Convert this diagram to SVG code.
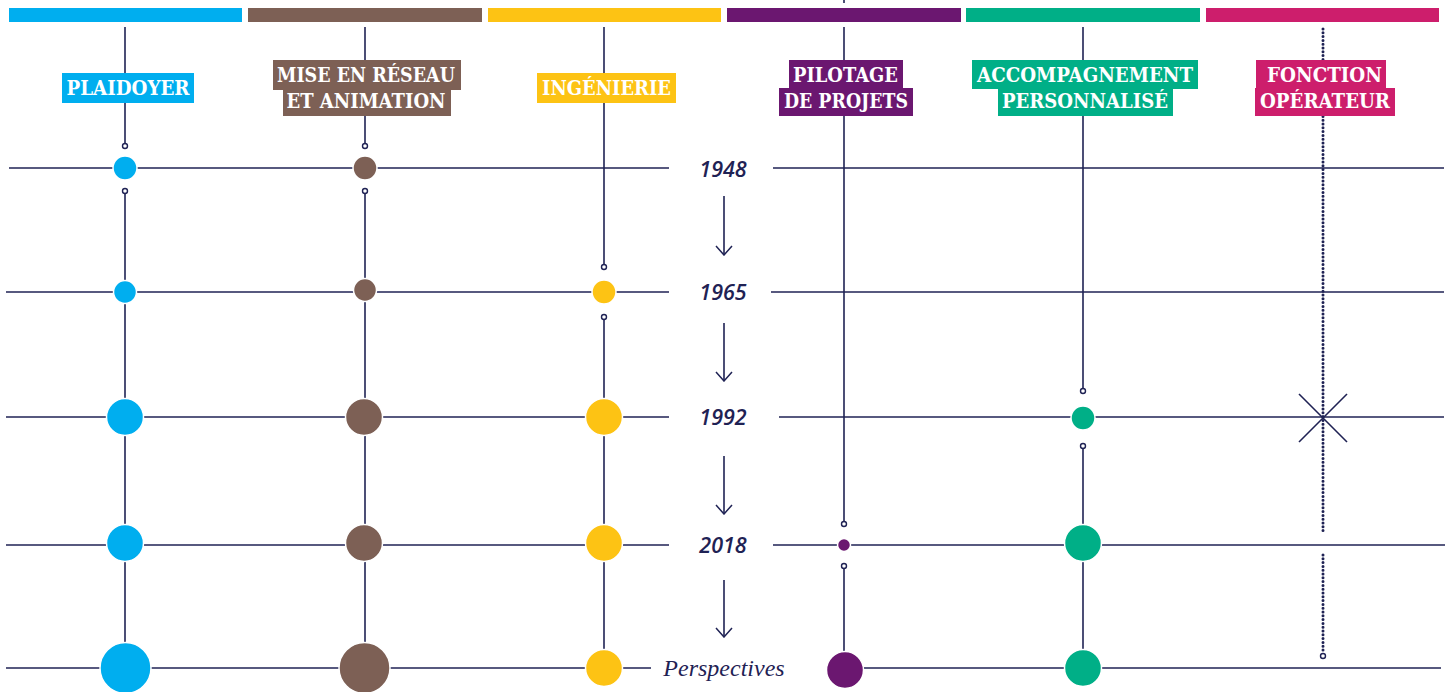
<svg xmlns="http://www.w3.org/2000/svg" width="1452" height="692" viewBox="0 0 1452 692">
<style>
.ln{stroke:#1f2254;stroke-width:1.6;fill:none}
.dot{stroke:#1f2254;stroke-width:3;fill:none;stroke-linecap:round;stroke-dasharray:0 3.8}
.oc{fill:#fff;stroke:#1f2254;stroke-width:1.4}
.nd{stroke:#fff;stroke-width:1.5}
.lab{font-family:"DejaVu Serif","Liberation Serif",serif;font-weight:bold;font-size:20px;fill:#fff;text-anchor:middle}
.yr{font-family:"Open Sans","Noto Sans",sans-serif;font-style:italic;font-weight:600;font-size:21.5px;fill:#1f2254;text-anchor:middle}
.per{font-family:"Liberation Serif","DejaVu Serif",serif;font-style:italic;font-size:24px;fill:#1f2254;text-anchor:middle}
.blue{fill:#00aeef}.brown{fill:#7d6055}.yellow{fill:#fdc314}.purple{fill:#6b1770}.green{fill:#00af87}.pink{fill:#cd1e6c}
</style>
<defs>
<marker id="ah" viewBox="0 0 12 20" refX="11" refY="10" markerWidth="12" markerHeight="20" markerUnits="userSpaceOnUse" orient="auto">
<path d="M2,2 L11,10 L2,18" fill="none" stroke="#1f2254" stroke-width="1.5"/>
</marker>
</defs>
<rect width="1452" height="692" fill="#fff"/>

<g id="top-bars">
<rect class="blue" x="9" y="8" width="233" height="14"/>
<rect class="brown" x="248" y="8" width="234" height="14"/>
<rect class="yellow" x="488" y="8" width="233" height="14"/>
<rect class="purple" x="727" y="8" width="234" height="14"/>
<rect class="green" x="966" y="8" width="234" height="14"/>
<rect class="pink" x="1206" y="8" width="233" height="14"/>
<line class="ln" x1="844" y1="0" x2="844" y2="3"/>
</g>

<g id="connectors">
<line class="ln" x1="9" y1="168" x2="669" y2="168"/>
<line class="ln" x1="773" y1="168" x2="1444" y2="168"/>
<line class="ln" x1="6" y1="292" x2="669" y2="292"/>
<line class="ln" x1="771" y1="292" x2="1444" y2="292"/>
<line class="ln" x1="6" y1="417" x2="669" y2="417"/>
<line class="ln" x1="779" y1="417" x2="1444" y2="417"/>
<line class="ln" x1="6" y1="545" x2="669" y2="545"/>
<line class="ln" x1="773" y1="545" x2="1445" y2="545"/>
<line class="ln" x1="6" y1="668" x2="651" y2="668"/>
<line class="ln" x1="844" y1="668" x2="1441" y2="668"/>
<line class="ln" x1="125" y1="27" x2="125" y2="143.5"/>
<line class="ln" x1="125" y1="193.5" x2="125" y2="645"/>
<line class="ln" x1="365" y1="27" x2="365" y2="143.5"/>
<line class="ln" x1="365" y1="193.5" x2="365" y2="645"/>
<line class="ln" x1="604" y1="27" x2="604" y2="264.5"/>
<line class="ln" x1="604" y1="319.5" x2="604" y2="655"/>
<line class="ln" x1="844" y1="27" x2="844" y2="521.5"/>
<line class="ln" x1="844" y1="568.5" x2="844" y2="655"/>
<line class="ln" x1="1083" y1="27" x2="1083" y2="388.5"/>
<line class="ln" x1="1083" y1="448.5" x2="1083" y2="655"/>
<line class="dot" x1="1323" y1="29" x2="1323" y2="533"/>
<line class="dot" x1="1323" y1="555" x2="1323" y2="651"/>
<line class="ln" x1="724" y1="196" x2="724" y2="255" marker-end="url(#ah)"/>
<line class="ln" x1="724" y1="323" x2="724" y2="381" marker-end="url(#ah)"/>
<line class="ln" x1="724" y1="456" x2="724" y2="514" marker-end="url(#ah)"/>
<line class="ln" x1="724" y1="580" x2="724" y2="637" marker-end="url(#ah)"/>
<line class="ln" x1="1299" y1="394" x2="1347" y2="442"/>
<line class="ln" x1="1347" y1="394" x2="1299" y2="442"/>
</g>

<g id="years">
<text class="yr" x="723" y="177">1948</text>
<text class="yr" x="723" y="300">1965</text>
<text class="yr" x="723" y="425">1992</text>
<text class="yr" x="723" y="553">2018</text>
<text class="per" x="724" y="676">Perspectives</text>
</g>

<g id="plaidoyer">
<rect class="blue" x="62" y="73" width="132" height="30"/>
<text class="lab" x="128" y="95" textLength="123" lengthAdjust="spacingAndGlyphs">PLAIDOYER</text>
<circle class="oc" cx="125" cy="146" r="2.5"/>
<circle class="blue nd" cx="125" cy="168" r="12"/>
<circle class="oc" cx="125" cy="191" r="2.5"/>
<circle class="blue nd" cx="125" cy="292" r="11.5"/>
<circle class="blue nd" cx="125" cy="417" r="18.5"/>
<circle class="blue nd" cx="125" cy="543" r="18.5"/>
<circle class="blue nd" cx="125.5" cy="668" r="25.5"/>
</g>

<g id="mise-en-reseau">
<rect class="brown" x="273" y="60" width="188" height="30"/>
<rect class="brown" x="283" y="89" width="168" height="27"/>
<text class="lab" x="366" y="82" textLength="178" lengthAdjust="spacingAndGlyphs">MISE EN RÉSEAU</text>
<text class="lab" x="366" y="108" textLength="159" lengthAdjust="spacingAndGlyphs">ET ANIMATION</text>
<circle class="oc" cx="365" cy="146" r="2.5"/>
<circle class="brown nd" cx="365" cy="168" r="12"/>
<circle class="oc" cx="365" cy="191" r="2.5"/>
<circle class="brown nd" cx="365" cy="290" r="11.5"/>
<circle class="brown nd" cx="364" cy="417" r="18.5"/>
<circle class="brown nd" cx="364" cy="543" r="18.5"/>
<circle class="brown nd" cx="364.5" cy="668" r="25.5"/>
</g>

<g id="ingenierie">
<rect class="yellow" x="537" y="73" width="139" height="30"/>
<text class="lab" x="606.5" y="95" textLength="129" lengthAdjust="spacingAndGlyphs">INGÉNIERIE</text>
<circle class="oc" cx="604" cy="267" r="2.5"/>
<circle class="yellow nd" cx="604" cy="292" r="12"/>
<circle class="oc" cx="604" cy="317" r="2.5"/>
<circle class="yellow nd" cx="604" cy="417" r="18.5"/>
<circle class="yellow nd" cx="604" cy="543" r="18.5"/>
<circle class="yellow nd" cx="604" cy="668" r="18.5"/>
</g>

<g id="pilotage">
<rect class="purple" x="789" y="60" width="114" height="29"/>
<rect class="purple" x="779" y="88" width="134" height="28"/>
<text class="lab" x="845.5" y="82" textLength="105" lengthAdjust="spacingAndGlyphs">PILOTAGE</text>
<text class="lab" x="846" y="108" textLength="124" lengthAdjust="spacingAndGlyphs">DE PROJETS</text>
<circle class="oc" cx="844" cy="524" r="2.5"/>
<circle class="purple nd" cx="844" cy="545" r="6.5"/>
<circle class="oc" cx="844" cy="566" r="2.5"/>
<circle class="purple nd" cx="845" cy="670" r="18.5"/>
</g>

<g id="accompagnement">
<rect class="green" x="972" y="60" width="226" height="29"/>
<rect class="green" x="998" y="88" width="175" height="28"/>
<text class="lab" x="1085" y="82" textLength="216" lengthAdjust="spacingAndGlyphs">ACCOMPAGNEMENT</text>
<text class="lab" x="1085" y="108" textLength="166" lengthAdjust="spacingAndGlyphs">PERSONNALISÉ</text>
<circle class="oc" cx="1083" cy="391" r="2.5"/>
<circle class="green nd" cx="1083" cy="418" r="12"/>
<circle class="oc" cx="1083" cy="446" r="2.5"/>
<circle class="green nd" cx="1083" cy="543" r="18.5"/>
<circle class="green nd" cx="1083" cy="668" r="18.5"/>
</g>

<g id="fonction-operateur">
<rect class="pink" x="1256" y="60" width="130" height="29"/>
<rect class="pink" x="1255" y="88" width="140" height="28"/>
<text class="lab" x="1324.5" y="82" textLength="115" lengthAdjust="spacingAndGlyphs">FONCTION</text>
<text class="lab" x="1325" y="108" textLength="130" lengthAdjust="spacingAndGlyphs">OPÉRATEUR</text>
<circle class="oc" cx="1323" cy="656" r="2.5"/>
</g>
</svg>
